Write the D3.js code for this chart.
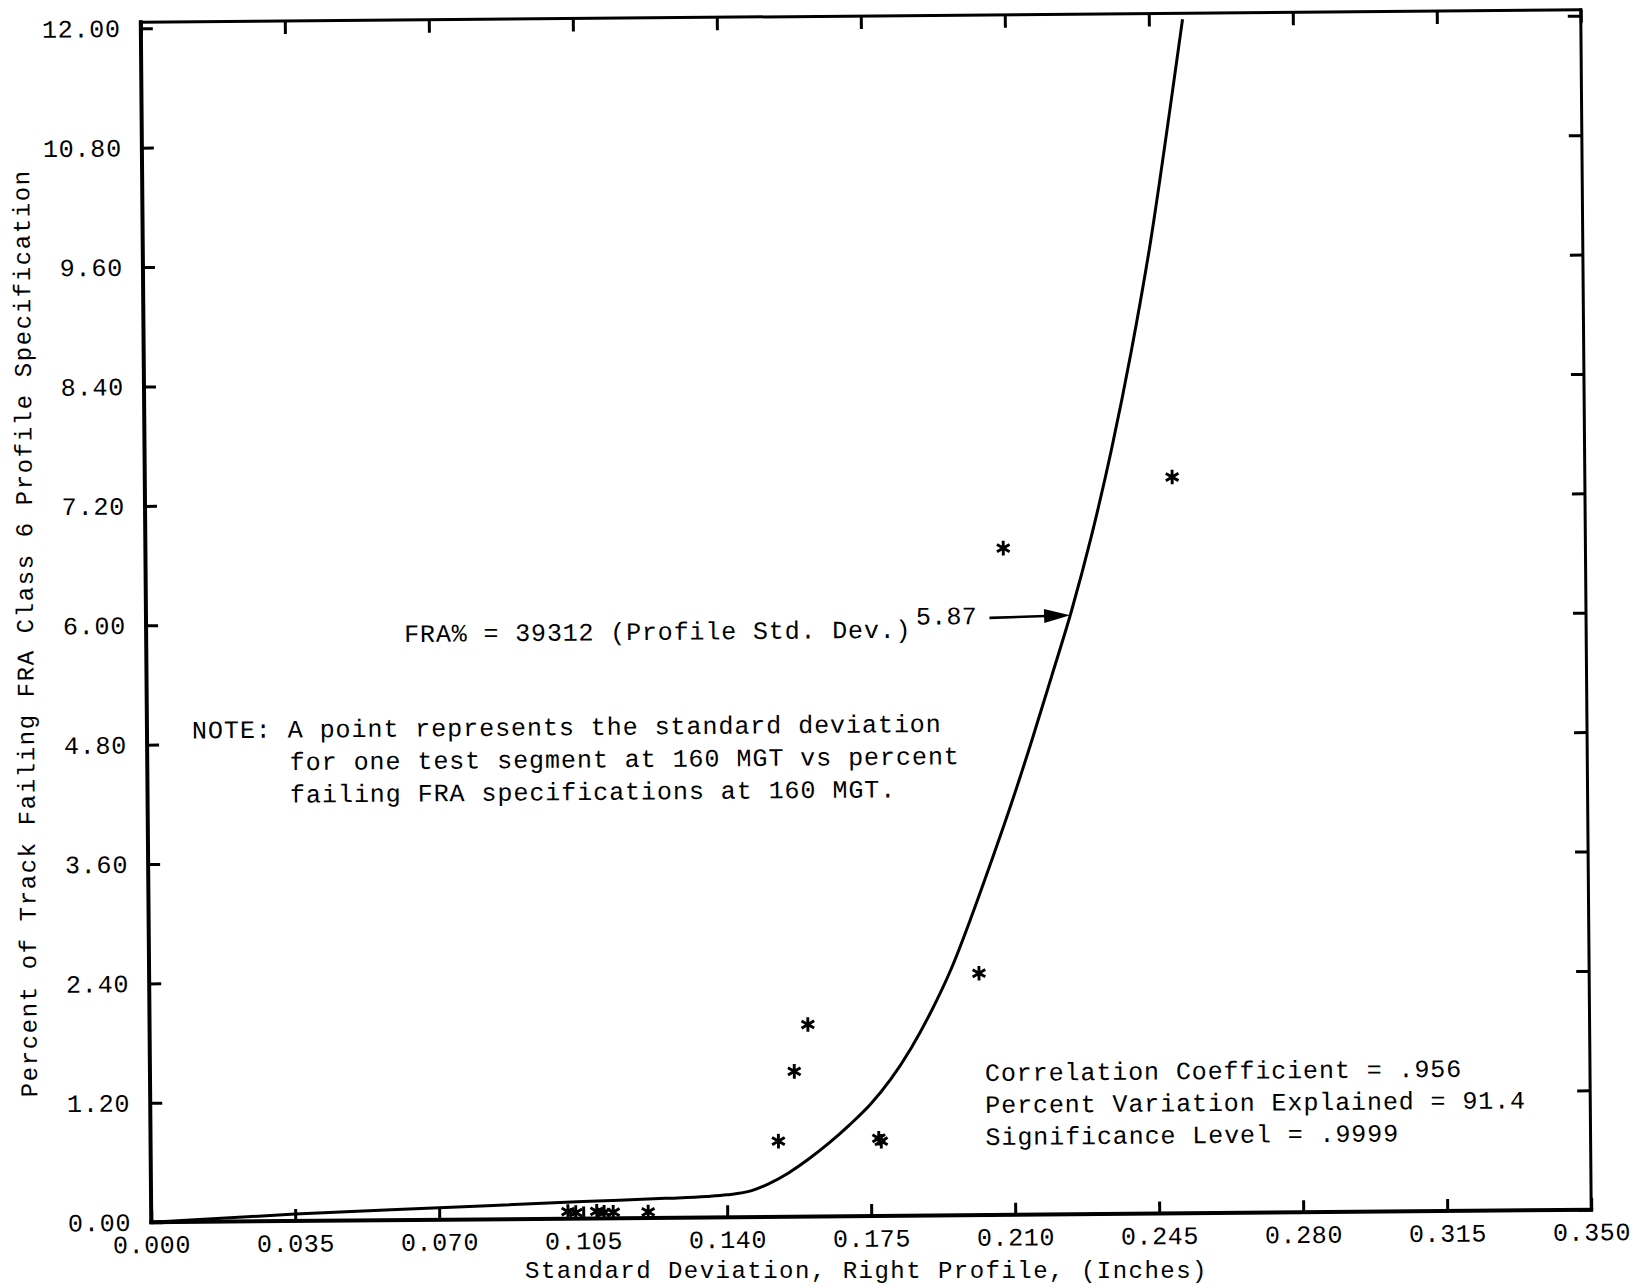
<!DOCTYPE html>
<html>
<head>
<meta charset="utf-8">
<title>Percent of track failing FRA Class 6 profile specification vs profile standard deviation</title>
<script src="https://cdn.jsdelivr.net/npm/d3@7"></script>
<style>
  html, body { margin: 0; padding: 0; background: #fff; }
  svg { display: block; }
</style>
</head>
<body>
<svg id="chart" width="1647" height="1288"></svg>
<script>
// x axis: standard deviation of the right profile, inches
const xTickValues = [0, 0.035, 0.07, 0.105, 0.14, 0.175, 0.21, 0.245, 0.28, 0.315, 0.35];
const xTickLabels = ["0.000", "0.035", "0.070", "0.105", "0.140", "0.175", "0.210", "0.245", "0.280", "0.315", "0.350"];

// y axis: percent of track failing the FRA Class 6 profile specification
const yTickValues = [0, 1.2, 2.4, 3.6, 4.8, 6.0, 7.2, 8.4, 9.6, 10.8, 12.0];
const yTickLabels = ["0.00", "1.20", "2.40", "3.60", "4.80", "6.00", "7.20", "8.40", "9.60", "10.80", "12.00"];

// one point per test segment at 160 MGT
const segmentStdDev  = [0.1013, 0.1032, 0.1083, 0.1101, 0.1123, 0.1208, 0.1526, 0.1566, 0.1600, 0.1770, 0.1776, 0.2017, 0.2085, 0.2497];
const segmentPctFail = [0.07,   0.06,   0.07,   0.06,   0.06,   0.06,   0.76,   1.46,   1.93,   0.78,   0.75,   2.43,   6.70,   7.40];

// fitted power curve, as plotted
const fitStdDev  = [0.000, 0.035, 0.070, 0.105, 0.125, 0.135, 0.140, 0.146, 0.150, 0.155, 0.160, 0.165, 0.170, 0.175, 0.180, 0.185, 0.190, 0.195, 0.200, 0.205, 0.210, 0.215, 0.220, 0.225, 0.230, 0.235, 0.240, 0.245, 0.250, 0.2532];
const fitPctFail = [0.00,  0.07,  0.12,  0.17,  0.195, 0.21,  0.225, 0.265, 0.33,  0.44,  0.58,  0.74,  0.92,  1.12,  1.37,  1.68,  2.05,  2.48,  3.00,  3.56,  4.14,  4.76,  5.41,  6.07,  6.82,  7.68,  8.66,  9.78,  11.11, 12.00];

// arrow from the equation label to the curve: [std dev, percent]
const arrowTail = [0.2050, 6.00];
const arrowTip  = [0.2246, 6.02];

const equationText = "FRA% = 39312 (Profile Std. Dev.)";
const equationExponent = "5.87";
const noteLines = [
  "NOTE: A point represents the standard deviation",
  "for one test segment at 160 MGT vs percent",
  "failing FRA specifications at 160 MGT."
];
const statLines = [
  "Correlation Coefficient = .956",
  "Percent Variation Explained = 91.4",
  "Significance Level = .9999"
];
const xTitle = "Standard Deviation, Right Profile, (Inches)";
const yTitle = "Percent of Track Failing FRA Class 6 Profile Specification";

// ---------------------------------------------------------------
const W = 1647, H = 1288;
const frame = { left: 146, right: 1586, top: 16, bottom: 1216 };
const FONT = "'Liberation Mono', 'DejaVu Sans Mono', monospace";
const INK = "#000";

const x = d3.scaleLinear().domain([0, 0.35]).range([frame.left, frame.right]);
const y = d3.scaleLinear().domain([0, 12]).range([frame.bottom, 22]);

const svg = d3.select("#chart");
svg.append("rect").attr("width", W).attr("height", H).attr("fill", "#fff");

// the whole sheet sits very slightly tilted
const g = svg.append("g").attr("transform", "rotate(-0.5 866 616)");

// plot frame
const frameSides = [
  { x1: frame.left,  y1: frame.top,    x2: frame.right, y2: frame.top,    w: 3 },
  { x1: frame.right, y1: frame.top,    x2: frame.right, y2: frame.bottom, w: 3 },
  { x1: frame.left,  y1: frame.bottom, x2: frame.right, y2: frame.bottom, w: 4 },
  { x1: frame.left,  y1: frame.top,    x2: frame.left,  y2: frame.bottom, w: 4 }
];
g.append("g").selectAll("line").data(frameSides).join("line")
  .attr("x1", d => d.x1).attr("y1", d => d.y1)
  .attr("x2", d => d.x2).attr("y2", d => d.y2)
  .attr("stroke", INK).attr("stroke-width", d => d.w)
  .attr("stroke-linecap", "square");

function styleAxis(sel, fontSize, spacing) {
  sel.select(".domain").remove();
  sel.attr("font-family", null).attr("font-size", null);
  sel.selectAll(".tick line").attr("stroke", INK).attr("stroke-width", 3);
  sel.selectAll(".tick text")
    .attr("fill", INK)
    .style("font-family", FONT)
    .style("font-size", fontSize + "px")
    .style("letter-spacing", spacing + "px");
}

// bottom axis with labels, inward ticks
g.append("g").attr("transform", `translate(0,${frame.bottom})`)
  .call(d3.axisBottom(x).tickValues(xTickValues)
    .tickFormat((d, i) => xTickLabels[i]).tickSize(-12).tickPadding(13))
  .call(s => styleAxis(s, 25, 0.6));

// top axis, ticks only
g.append("g").attr("transform", `translate(0,${frame.top})`)
  .call(d3.axisTop(x).tickValues(xTickValues).tickFormat("").tickSize(-13))
  .call(s => styleAxis(s, 25, 0));

// left axis with labels
g.append("g").attr("transform", `translate(${frame.left},0)`)
  .call(d3.axisLeft(y).tickValues(yTickValues)
    .tickFormat((d, i) => yTickLabels[i]).tickSize(-12).tickPadding(20))
  .call(s => styleAxis(s, 25, 0.8));

// right axis, ticks only
g.append("g").attr("transform", `translate(${frame.right},0)`)
  .call(d3.axisRight(y).tickValues(yTickValues).tickFormat("").tickSize(-13))
  .call(s => styleAxis(s, 25, 0));

// fitted curve
const fitData = fitStdDev.map((v, i) => [v, fitPctFail[i]]);
const line = d3.line()
  .x(d => x(d[0])).y(d => y(d[1]))
  .curve(d3.curveMonotoneX);
g.append("path").datum(fitData)
  .attr("d", line)
  .attr("fill", "none").attr("stroke", INK)
  .attr("stroke-width", 3).attr("stroke-linejoin", "round");

// segment points drawn as asterisks
const points = segmentStdDev.map((v, i) => [v, segmentPctFail[i]]);
g.append("g").selectAll("path").data(points).join("path")
  .attr("transform", d => `translate(${x(d[0])},${y(d[1])})`)
  .attr("d", d3.symbol(d3.symbolAsterisk, 150))
  .attr("fill", "none").attr("stroke", INK)
  .attr("stroke-width", 2.9);

// arrow from the equation to the curve
{
  const tx = x(arrowTail[0]), ty = y(arrowTail[1]);
  const hx = x(arrowTip[0]),  hy = y(arrowTip[1]);
  const ang = Math.atan2(hy - ty, hx - tx);
  const headLen = 26, headHalf = 7;
  const bx = hx - headLen * Math.cos(ang), by = hy - headLen * Math.sin(ang);
  g.append("line")
    .attr("x1", tx).attr("y1", ty).attr("x2", bx + 2 * Math.cos(ang)).attr("y2", by + 2 * Math.sin(ang))
    .attr("stroke", INK).attr("stroke-width", 2.6);
  const px = -Math.sin(ang), py = Math.cos(ang);
  g.append("path")
    .attr("d", `M${hx},${hy}L${bx + px * headHalf},${by + py * headHalf}L${bx - px * headHalf},${by - py * headHalf}Z`)
    .attr("fill", INK);
}

function addText(parent, txt, px, py, size, spacing, anchor) {
  return parent.append("text")
    .attr("x", px).attr("y", py)
    .attr("fill", INK)
    .attr("text-anchor", anchor || "start")
    .style("font-family", FONT)
    .style("font-size", size + "px")
    .style("letter-spacing", spacing + "px")
    .text(txt);
}

// equation label with its exponent
addText(g, equationText, 404, 638, 25, 0.85);
addText(g, equationExponent, 916, 625, 25, 0.2);

// note
addText(g, noteLines[0], 191, 732.5, 25, 0.95);
addText(g, noteLines[1], 288.5, 765, 25, 0.95);
addText(g, noteLines[2], 288.5, 797.5, 25, 0.95);

// fit statistics
statLines.forEach((s, i) => addText(g, s, 981, 1082 + i * 32, 25, 0.9));

// axis titles
addText(svg, xTitle, 525, 1278, 24, 1.48);
g.append("text")
  .attr("transform", "translate(33,626) rotate(-90)")
  .attr("text-anchor", "middle")
  .attr("fill", INK)
  .style("font-family", FONT)
  .style("font-size", "24px")
  .style("letter-spacing", "1.6px")
  .text(yTitle);
</script>
</body>
</html>
